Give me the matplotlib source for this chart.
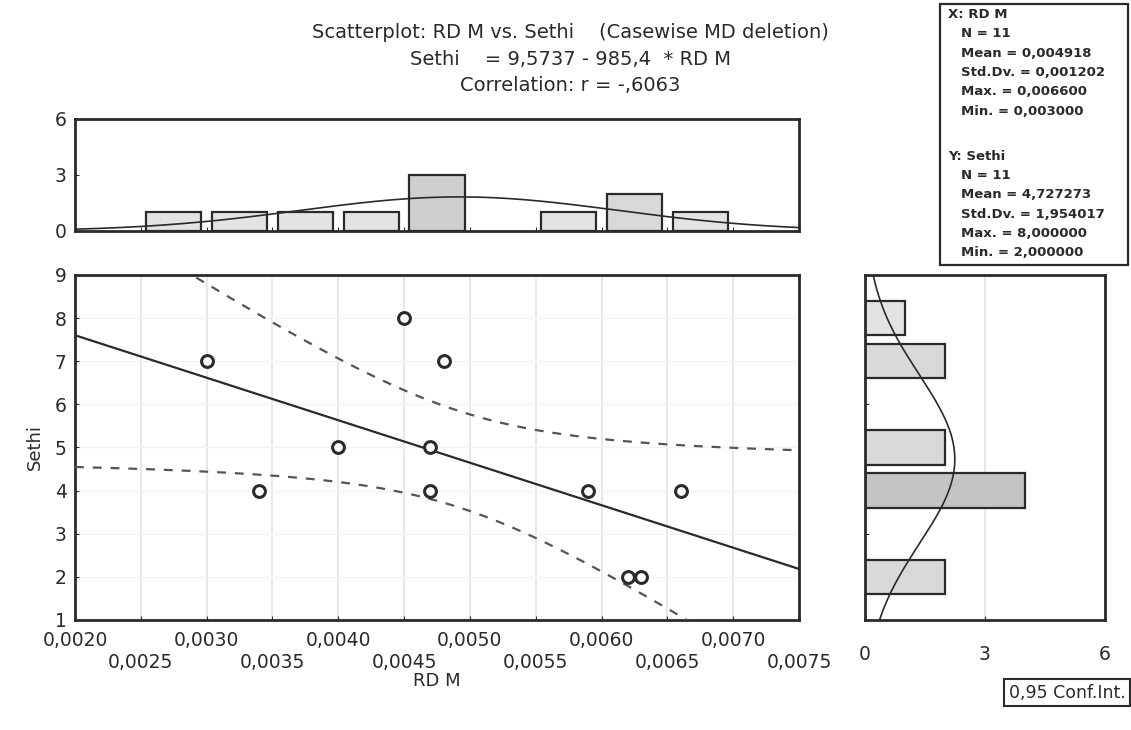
import numpy as np
import matplotlib.pyplot as plt
from matplotlib.patches import Rectangle

rd_m = [0.0030, 0.0045, 0.0048, 0.0040, 0.0047, 0.0034, 0.0047, 0.0059, 0.0066, 0.0062, 0.0063]
sethi = [7, 8, 7, 5, 5, 4, 4, 4, 4, 2, 2]

x_edges = [0.0025, 0.0030, 0.0035, 0.0040, 0.0045, 0.0050, 0.0055, 0.0060, 0.0065, 0.0070]
y_levels = [1, 2, 3, 4, 5, 6, 7, 8, 9]
x_ticks = [0.0020, 0.0025, 0.0030, 0.0035, 0.0040, 0.0045, 0.0050, 0.0055,
           0.0060, 0.0065, 0.0070, 0.0075]

title_lines = ["Scatterplot: RD M vs. Sethi    (Casewise MD deletion)",
               "Sethi    = 9,5737 - 985,4  * RD M",
               "Correlation: r = -,6063"]

plt.rcParams['font.family'] = ['DejaVu Sans']
INK = '#2a2a2a'


def comma(v, nd):
    return "{:.{}f}".format(v, nd).replace('.', ',')


x = np.array(rd_m)
y = np.array(sethi, dtype=float)
n = len(x)

fig = plt.figure(figsize=(11.31, 7.30), dpi=100)
ax = fig.add_axes([0.0663, 0.1507, 0.6402, 0.4726])
ax_top = fig.add_axes([0.0663, 0.6836, 0.6402, 0.1534])
ax_r = fig.add_axes([0.7648, 0.1507, 0.2122, 0.4726])

# --- main scatter with regression + 95% band
b1, b0 = np.polyfit(x, y, 1)
xs = np.linspace(0.0020, 0.0075, 300)
yhat = b0 + b1 * xs
resid = y - (b0 + b1 * x)
s = np.sqrt(np.sum(resid ** 2) / (n - 2))
sxx = np.sum((x - x.mean()) ** 2)
t975 = 2.262157
band = t975 * s * np.sqrt(1.0 / n + (xs - x.mean()) ** 2 / sxx)

ax.plot(xs, yhat, color=INK, lw=1.6, zorder=3)
ax.plot(xs, yhat + band, color='#555555', lw=1.6, ls=(0, (4, 4)), zorder=3)
ax.plot(xs, yhat - band, color='#555555', lw=1.6, ls=(0, (4, 4)), zorder=3)
ax.plot(x, y, 'o', ms=8.5, mfc='white', mec=INK, mew=2.2, zorder=4)

ax.set_xlim(0.0020, 0.0075)
ax.set_ylim(1, 9)
ax.set_xticks(x_ticks)
ax.set_xticklabels([comma(t, 4) if i % 2 == 0 else "\n" + comma(t, 4)
                    for i, t in enumerate(x_ticks)])
ax.set_yticks(y_levels)
ax.grid(axis='x', color='#e4e4e4', lw=1.2)
ax.grid(axis='y', color='#f3f3f3', lw=1.0)
ax.set_axisbelow(True)
ax.tick_params(direction='in', length=3, labelsize=13.5, colors=INK)
ax.tick_params(axis='x', pad=8)
ax.tick_params(axis='y', pad=6)
ax.set_xlabel("RD M", fontsize=13, color=INK, labelpad=0)
ax.set_ylabel("Sethi", fontsize=13, color=INK, labelpad=8)

# --- top histogram of RD M
counts_x = np.zeros(len(x_edges) - 1, dtype=int)
for v in rd_m:
    counts_x[np.searchsorted(x_edges, v, side='left') - 1] += 1
centers_x = [(a + b) / 2 for a, b in zip(x_edges[:-1], x_edges[1:])]
for c, k in zip(centers_x, counts_x):
    if k > 0:
        shade = str(0.93 - 0.04 * k)
        ax_top.bar(c, k, width=0.00042, color=shade, edgecolor=INK, lw=1.6, zorder=2)
bw_x = x_edges[1] - x_edges[0]
sd_x = x.std(ddof=1)
ax_top.plot(xs, n * bw_x * np.exp(-0.5 * ((xs - x.mean()) / sd_x) ** 2) / (sd_x * np.sqrt(2 * np.pi)),
            color=INK, lw=1.2, zorder=3)
ax_top.set_xlim(0.0020, 0.0075)
ax_top.set_ylim(0, 6)
ax_top.set_yticks([0, 3, 6])
ax_top.set_xticks(x_ticks)
ax_top.set_xticklabels([])
ax_top.tick_params(direction='in', length=3, labelsize=13.5, colors=INK, pad=6)

# --- right histogram of Sethi
levels, counts_y = np.unique(sethi, return_counts=True)
for lv, k in zip(levels, counts_y):
    shade = str(0.93 - 0.04 * k)
    ax_r.barh(lv, k, height=0.8, color=shade, edgecolor=INK, lw=1.6, zorder=2)
ys = np.linspace(1, 9, 300)
sd_y = y.std(ddof=1)
ax_r.plot(n * np.exp(-0.5 * ((ys - y.mean()) / sd_y) ** 2) / (sd_y * np.sqrt(2 * np.pi)), ys,
          color=INK, lw=1.2, zorder=3)
ax_r.set_xlim(0, 6)
ax_r.set_ylim(1, 9)
ax_r.set_xticks([0, 3, 6])
ax_r.set_yticks(y_levels)
ax_r.set_yticklabels([])
ax_r.grid(axis='x', color='#e4e4e4', lw=1.2)
ax_r.set_axisbelow(True)
ax_r.tick_params(direction='in', length=3, labelsize=13.5, colors=INK, pad=18)

for a in (ax, ax_top, ax_r):
    for sp in a.spines.values():
        sp.set_linewidth(2)
        sp.set_color(INK)

# --- titles
for i, line in enumerate(title_lines):
    fig.text(0.504, 0.955 - i * 0.036, line, ha='center', va='center', fontsize=14, color=INK)

# --- descriptive statistics box
fig.patches.append(Rectangle((0.831, 0.637), 0.166, 0.358, transform=fig.transFigure,
                             facecolor='white', edgecolor=INK, lw=1.6))
stats = [("X: RD M", x, 6), ("Y: Sethi", y, 6)]
y0 = 0.980
for k, (name, v, nd) in enumerate(stats):
    rows = ["N = {}".format(len(v)),
            "Mean = " + comma(v.mean(), nd),
            "Std.Dv. = " + comma(v.std(ddof=1), nd),
            "Max. = " + comma(v.max(), nd),
            "Min. = " + comma(v.min(), nd)]
    top = y0 - k * 0.194
    fig.text(0.838, top, name, fontsize=9.5, fontweight='bold', color=INK, va='center')
    for j, r in enumerate(rows):
        fig.text(0.850, top - (j + 1) * 0.0265, r, fontsize=9.5, fontweight='bold',
                 color=INK, va='center')

fig.text(0.995, 0.051, "0,95 Conf.Int.", ha='right', va='center', fontsize=12.5, color=INK,
         bbox=dict(boxstyle='square,pad=0.25', facecolor='white', edgecolor=INK, lw=1.5))

fig.savefig("out.png", dpi=100)
